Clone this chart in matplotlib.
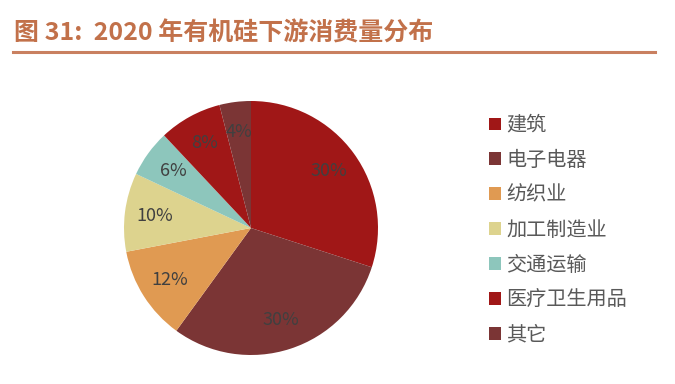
import numpy as np
import matplotlib.pyplot as plt
from matplotlib.patches import Patch
from matplotlib.lines import Line2D

plt.rcParams['font.family'] = ['Noto Sans CJK SC', 'DejaVu Sans']

#------------------------------------------------------------------------------
# Data
#------------------------------------------------------------------------------
categories = ['建筑', '电子电器', '纺织业', '加工制造业', '交通运输', '医疗卫生用品', '其它']
shares = [30, 30, 12, 10, 6, 8, 4]
colors = ['#A01717', '#7B3535', '#E09A52', '#DDD38E', '#8DC6BC', '#A01717', '#7B3535']

W, H = 675, 384
fig = plt.figure(figsize=(W/100, H/100), dpi=100)

# title and rule
fig.text(14/W, 1 - 33/H, '图 31:  2020 年有机硅下游消费量分布', color='#C2714A',
         fontsize=18, fontweight='bold', va='center', ha='left')
fig.add_artist(Line2D([13/W, 655/W], [1 - 52/H, 1 - 52/H], color='#C98060', lw=2.2))

# pie
cx, cy, r = 251, 228, 127
ax = fig.add_axes([(cx - r)/W, (H - cy - r)/H, 2*r/W, 2*r/H])
wedges, texts = ax.pie(shares, colors=colors, startangle=90, counterclock=False,
                       radius=1.0, wedgeprops=dict(linewidth=0))
for w, v in zip(wedges, shares):
    ang = np.deg2rad((w.theta1 + w.theta2) / 2)
    ax.text(0.76*np.cos(ang), 0.76*np.sin(ang), '{}%'.format(v),
            ha='center', va='center', fontsize=13, color='#404040')
ax.set_xlim(-1, 1)
ax.set_ylim(-1, 1)
ax.set_aspect('equal')
ax.axis('off')

# legend
handles = [Patch(facecolor=c, edgecolor='none') for c in colors]
leg = fig.legend(handles, categories, loc='upper left', bbox_to_anchor=(489/W, 1 - 115/H),
                 frameon=False, fontsize=14.5, handlelength=0.6, handleheight=0.6,
                 handletextpad=0.25, labelspacing=0.69, borderaxespad=0, borderpad=0)
for t in leg.get_texts():
    t.set_color('#595959')

plt.savefig('out.png', dpi=100)
